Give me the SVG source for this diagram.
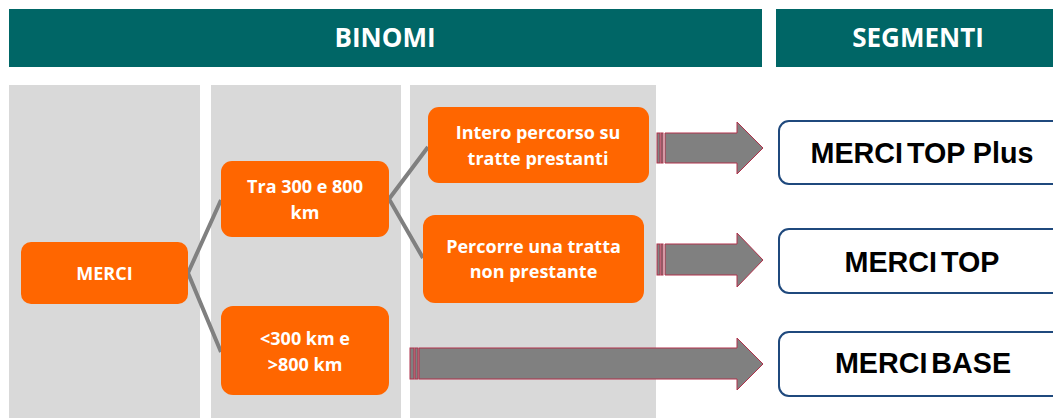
<svg xmlns="http://www.w3.org/2000/svg" width="1053" height="418" viewBox="0 0 1053 418">
<style>
.hdr{fill:#006666}
.htxt{font-family:"Open Sans",sans-serif;font-weight:bold;font-size:26px;fill:#fff;text-anchor:middle}
.col{fill:#d9d9d9}
.ob{fill:#ff6600}
.otxt{font-family:"Open Sans",sans-serif;font-weight:bold;font-size:18px;fill:#fff;text-anchor:middle}
.seg{fill:#fff;stroke:#1f497d;stroke-width:2}
.stxt{font-family:"Liberation Sans",Arial,sans-serif;font-weight:bold;font-size:28.7px;fill:#000;text-anchor:middle}
.ln{stroke:#808080;stroke-width:4;fill:none}
.ar{fill:#808080;stroke:#b0304a;stroke-width:1}
</style>
<rect width="1053" height="418" fill="#fff"/>
<g id="header-binomi"><rect class="hdr" x="9" y="9" width="753" height="58"/><text class="htxt" x="385" y="47">BINOMI</text></g>
<g id="header-segmenti"><rect class="hdr" x="776" y="9" width="277" height="58"/><text class="htxt" x="918" y="47">SEGMENTI</text></g>
<g id="columns">
<rect class="col" x="9" y="85" width="191" height="333"/>
<rect class="col" x="211" y="85" width="190" height="333"/>
<rect class="col" x="410" y="85" width="246" height="333"/>
</g>
<g id="connectors">
<polyline class="ln" points="221,200 188,273 221,352"/>
<polyline class="ln" points="428,147 389,199 423,258"/>
<g id="arrow1"><rect class="ar" x="657" y="133" width="3" height="30"/><rect class="ar" x="661" y="133" width="2" height="30"/><path class="ar" d="M665,133 H737 V122 L763,148 L737,174 V163 H665 Z"/></g>
<g id="arrow2"><rect class="ar" x="657" y="244" width="3" height="31"/><rect class="ar" x="661" y="244" width="2" height="31"/><path class="ar" d="M665,244 H737 V233 L763,260 L737,287 V275 H665 Z"/></g>
<g id="arrow3"><rect class="ar" x="410" y="348" width="4" height="31"/><rect class="ar" x="415" y="348" width="3" height="31"/><path class="ar" d="M419,348 H737 V338 L763,364 L737,390 V379 H419 Z"/></g>
</g>
<g id="merci"><rect class="ob" x="21" y="242" width="167" height="62" rx="10"/><text class="otxt" x="104.5" y="280">MERCI</text></g>
<g id="tra300800"><rect class="ob" x="221" y="161" width="168" height="76" rx="11"/><text class="otxt" x="305" y="193">Tra 300 e 800</text><text class="otxt" x="305" y="219">km</text></g>
<g id="lt300gt800"><rect class="ob" x="221" y="306" width="168" height="89" rx="12"/><text class="otxt" x="305" y="345">&lt;300 km e</text><text class="otxt" x="305" y="371">&gt;800 km</text></g>
<g id="intero"><rect class="ob" x="428" y="107" width="221" height="76" rx="11"/><text class="otxt" x="538" y="139">Intero percorso su</text><text class="otxt" x="538" y="165">tratte prestanti</text></g>
<g id="percorre"><rect class="ob" x="423" y="215" width="221" height="88" rx="12"/><text class="otxt" x="533.5" y="253">Percorre una tratta</text><text class="otxt" x="533.5" y="278">non prestante</text></g>
<g id="seg-topplus"><rect class="seg" x="779" y="121" width="300" height="63" rx="10"/><text class="stxt" x="922" y="163">MERCI<tspan dx="-4"> TOP</tspan> Plus</text></g>
<g id="seg-top"><rect class="seg" x="779" y="229" width="300" height="64" rx="10"/><text class="stxt" x="922" y="272">MERCI<tspan dx="-4"> TOP</tspan></text></g>
<g id="seg-base"><rect class="seg" x="779" y="332" width="300" height="64" rx="10"/><text class="stxt" x="923" y="373">MERCI<tspan dx="-4"> BASE</tspan></text></g>
</svg>
